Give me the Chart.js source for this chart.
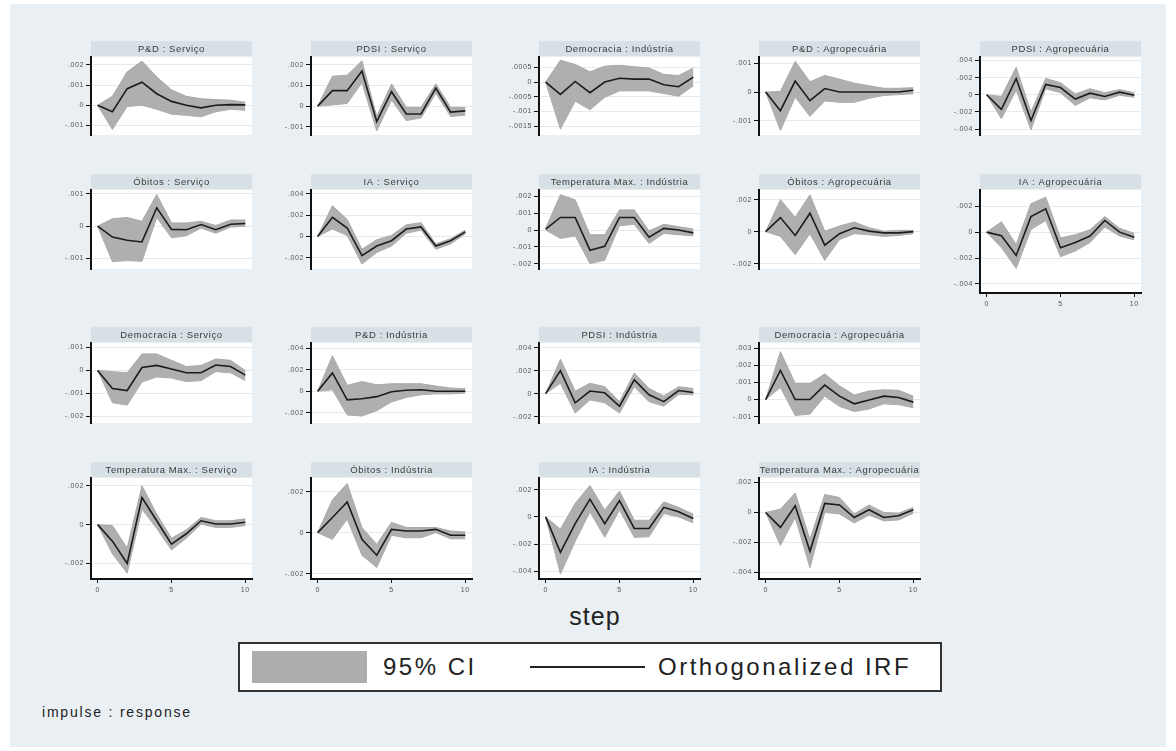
<!DOCTYPE html>
<html>
<head>
<meta charset="utf-8">
<title>IRF</title>
<script src="https://cdn.jsdelivr.net/npm/chart.js@4/dist/chart.umd.min.js"></script>
<style>
  html, body { margin: 0; padding: 0; background: #fff; }
  body { width: 1176px; height: 751px; position: relative; overflow: hidden; font-family: "Liberation Sans", Arial, sans-serif; color: #222; }
  #region { position: absolute; left: 10px; top: 4px; width: 1156px; height: 743px; background: #e9eff2; }
  canvas { position: absolute; }
  #step { position: absolute; left: 545px; top: 601px; width: 100px; text-align: center; font-size: 25px; letter-spacing: 1px; line-height: 30px; }
  #legend { position: absolute; left: 238px; top: 642px; width: 700px; height: 46px; background: #fff; border: 2px solid #333; }
  #legend .sw { position: absolute; left: 12px; top: 7px; width: 115px; height: 32px; background: #adadad; }
  #legend .ln { position: absolute; left: 290px; top: 22px; width: 115px; height: 2px; background: #222; }
  #legend .tx { position: absolute; top: 8px; font-size: 24px; line-height: 30px; letter-spacing: 2.5px; }
  #note { position: absolute; left: 42px; top: 704px; font-size: 14px; letter-spacing: 1.8px; }
</style>
</head>
<body>
<div id="region"></div>
<div id="step">step</div>
<div id="legend">
  <div class="sw"></div>
  <div class="tx" style="left:143px">95% CI</div>
  <div class="ln"></div>
  <div class="tx" style="left:418px">Orthogonalized IRF</div>
</div>
<div id="note">impulse : response</div>
<script>
// impulse : response panels
const titles = [
  'P&D : Serviço', 'PDSI : Serviço', 'Democracia : Indústria', 'P&D : Agropecuária', 'PDSI : Agropecuária',
  'Óbitos : Serviço', 'IA : Serviço', 'Temperatura Max. : Indústria', 'Óbitos : Agropecuária', 'IA : Agropecuária',
  'Democracia : Serviço', 'P&D : Indústria', 'PDSI : Indústria', 'Democracia : Agropecuária',
  'Temperatura Max. : Serviço', 'Óbitos : Indústria', 'IA : Indústria', 'Temperatura Max. : Agropecuária'
]

const steps = [0, 1, 2, 3, 4, 5, 6, 7, 8, 9, 10]
const xTicks = [0, 5, 10]

const irf = [
  [0, -0.00032, 0.00082, 0.00114, 0.00057, 0.00019, 0, -0.00013, 0, 0.00003, 0.00002],
  [0, 0.00075, 0.00075, 0.0017, -0.00075, 0.0007, -0.00038, -0.00038, 0.00088, -0.00029, -0.00023],
  [0, -0.00042, 0.00002, -0.00036, 0, 0.00013, 0.0001, 0.0001, -0.00009, -0.00016, 0.00017],
  [0, -0.00065, 0.00038, -0.0003, 0.00012, 0, 0, 0, 0, 0, 0.00006],
  [0, -0.0017, 0.0019, -0.003, 0.0012, 0.00084, -0.0005, 0.00018, -0.0002, 0.0003, -0.00006],
  [0, -0.00034, -0.00044, -0.00049, 0.00057, -0.0001, -0.00011, 0.00005, -0.00011, 0.00006, 0.00008],
  [0, 0.0018, 0.0008, -0.0018, -0.0009, -0.0004, 0.0007, 0.0009, -0.0009, -0.0004, 0.00044],
  [0.00005, 0.00075, 0.00075, -0.0012, -0.00097, 0.00075, 0.00075, -0.00043, 0.0001, 0, -0.00017],
  [0, 0.00088, -0.00024, 0.00115, -0.00085, -0.00013, 0.00024, 0.00003, -0.00008, -0.00008, 0],
  [0, -0.00028, -0.0018, 0.0012, 0.0018, -0.0012, -0.0008, -0.0003, 0.0009, 0, -0.0004],
  [0, -0.00078, -0.00087, 0.00013, 0.00022, 0.00006, -0.0001, -0.0001, 0.00024, 0.00017, -0.0002],
  [0, 0.0017, -0.0008, -0.0007, -0.0005, -0.00005, 0.0001, 0.00014, 0, 0, 0],
  [0, 0.002, -0.0008, 0.00022, 0.00007, -0.0011, 0.0012, -0.0001, -0.0007, 0.00027, 0.0001],
  [0, 0.0017, 0, 0, 0.00084, 0.0002, -0.00025, -0.00003, 0.0002, 0.00012, -0.00015],
  [0, -0.00085, -0.002, 0.0014, 0.0002, -0.001, -0.00047, 0.0002, 0.00003, 0.00003, 0.00012],
  [0, 0.00074, 0.0015, -0.00033, -0.0011, 0.00016, 0.00008, 0.00008, 0.00016, -0.00013, -0.00013],
  [0, -0.0026, -0.0005, 0.0013, -0.0005, 0.0012, -0.00085, -0.00085, 0.0007, 0.00037, -0.00012],
  [0, -0.001, 0.00045, -0.0026, 0.0006, 0.0005, -0.00034, 0.00018, -0.00034, -0.00022, 0.00018]
]

const ciHigh = [
  [0, 0.00044, 0.00165, 0.00218, 0.0014, 0.00076, 0.00044, 0.00032, 0.00028, 0.00025, 0.00015],
  [0, 0.00145, 0.0015, 0.0022, -0.0005, 0.00108, -0.00006, -0.00006, 0.00108, -0.00006, -0.00006],
  [0, 0.00074, 0.0006, 0.00035, 0.00054, 0.00057, 0.00052, 0.00048, 0.00026, 0.00022, 0.00048],
  [0, 0.00002, 0.00107, 0.00036, 0.00058, 0.00045, 0.00031, 0.00022, 0.00013, 0.00013, 0.00015],
  [0, -0.0002, 0.0032, -0.002, 0.0019, 0.0014, 0.0001, 0.0007, 0.00024, 0.0006, 0.00024],
  [0, 0.00023, 0.00027, 0.00015, 0.00098, 0.0001, 0.0001, 0.00015, 0.00002, 0.00019, 0.00019],
  [0, 0.0029, 0.0016, -0.0012, -0.0003, 0.0001, 0.0011, 0.0013, -0.0007, -0.0002, 0.0006],
  [0.0001, 0.0021, 0.0018, -0.00028, -0.00028, 0.0012, 0.0012, -0.00005, 0.00034, 0.0002, 0.00006],
  [0, 0.002, 0.0009, 0.0023, 0.00003, 0.00035, 0.0006, 0.00024, 0.00003, 0.00008, 0.00008],
  [0, 0.0008, -0.00095, 0.0022, 0.0027, -0.00045, -0.0002, 0.00018, 0.0012, 0.0003, -0.0001],
  [0, -0.00005, -0.0001, 0.00072, 0.00072, 0.00044, 0.00017, 0.00022, 0.0005, 0.00044, 0],
  [0, 0.0033, 0.00055, 0.0009, 0.0006, 0.0007, 0.0007, 0.0007, 0.00048, 0.0003, 0.00024],
  [0, 0.003, 0.0002, 0.0009, 0.0006, -0.0007, 0.0018, 0.00044, -0.0002, 0.0006, 0.00044],
  [0, 0.0028, 0.00094, 0.00094, 0.0015, 0.0008, 0.00027, 0.0005, 0.00057, 0.00054, 0.0002],
  [0, -0.00005, -0.0012, 0.002, 0.00054, -0.0007, -0.00027, 0.00037, 0.0002, 0.0002, 0.0003],
  [0, 0.0016, 0.0024, 0.00025, -0.00057, 0.0005, 0.00025, 0.00025, 0.00025, 0.00008, 0.00003],
  [0, -0.0009, 0.001, 0.0023, 0.0005, 0.0019, -0.00025, -0.00025, 0.0011, 0.0007, 0.0002],
  [0, 0.00022, 0.0013, -0.0018, 0.0012, 0.001, -0.0001, 0.0005, 0, -0.00005, 0.00034]
]

const ciLow = [
  [0, -0.0012, -0.00006, 0, -0.0002, -0.00044, -0.0005, -0.00057, -0.00032, -0.0002, -0.00025],
  [0, 0.00006, 0.00013, 0.00114, -0.0012, 0.0003, -0.0007, -0.00057, 0.00063, -0.0005, -0.00044],
  [0, -0.0016, -0.00065, -0.00094, -0.00052, -0.0003, -0.0003, -0.0003, -0.00039, -0.00048, -0.00013],
  [0, -0.00134, -0.00018, -0.00085, -0.00031, -0.00036, -0.00036, -0.00022, -0.00012, -0.00009, -0.00006],
  [0, -0.0028, 0.00054, -0.0041, 0.0007, 0.00024, -0.00125, -0.00036, -0.0006, -0.00006, -0.0003],
  [0, -0.0011, -0.00107, -0.00109, 0.00027, -0.00036, -0.0003, -0.00006, -0.00022, -0.00003, 0],
  [0, 0.0007, 0.0001, -0.0026, -0.0015, -0.0009, 0.0003, 0.0006, -0.0012, -0.0007, 0.00025],
  [0, -0.0005, -0.00035, -0.002, -0.0018, 0.00026, 0.00034, -0.0008, -0.0002, -0.00028, -0.00035],
  [0, -0.0003, -0.00145, -0.00013, -0.0018, -0.0005, -0.00013, -0.0002, -0.0003, -0.00024, -0.00013],
  [0, -0.0012, -0.0028, 0.0002, 0.0009, -0.0019, -0.00145, -0.0008, 0.0004, -0.0003, -0.0006],
  [0, -0.0014, -0.0015, -0.0005, -0.00028, -0.00033, -0.00048, -0.00044, -0.00005, -0.0001, -0.00044],
  [0, 0.00014, -0.0022, -0.0023, -0.0018, -0.001, -0.00057, -0.00033, -0.00024, -0.00024, -0.00017],
  [0, 0.0009, -0.0017, -0.00055, -0.0008, -0.0017, 0.0006, -0.0007, -0.0011, -0.00007, -0.0001],
  [0, 0.0007, -0.00093, -0.00085, 0.0002, -0.0004, -0.0007, -0.00055, -0.00025, -0.0003, -0.00048],
  [0, -0.0015, -0.0025, 0.0008, -0.0002, -0.0013, -0.0007, 0.00003, -0.00014, -0.00014, -0.00005],
  [0, -0.00033, 0.00066, -0.0011, -0.0017, -0.00013, -0.00025, -0.00025, 0, -0.0003, -0.0003],
  [0, -0.0042, -0.0018, 0.00037, -0.0015, 0.0005, -0.0015, -0.00146, 0.00024, 0, -0.00044],
  [0, -0.0022, -0.00034, -0.0037, 0, -0.0001, -0.0007, -0.00018, -0.00056, -0.0005, -0.00005]
]

const yTicks = [
  [-0.001, 0, 0.001, 0.002], [-0.001, 0, 0.001, 0.002], [-0.0015, -0.001, -0.0005, 0, 0.0005],
  [-0.001, 0, 0.001], [-0.004, -0.002, 0, 0.002, 0.004],
  [-0.001, 0, 0.001], [-0.002, 0, 0.002, 0.004], [-0.002, -0.001, 0, 0.001, 0.002],
  [-0.002, 0, 0.002], [-0.004, -0.002, 0, 0.002],
  [-0.002, -0.001, 0, 0.001], [-0.002, 0, 0.002, 0.004], [-0.002, 0, 0.002, 0.004],
  [-0.001, 0, 0.001, 0.002, 0.003],
  [-0.002, 0, 0.002], [-0.002, 0, 0.002], [-0.004, -0.002, 0, 0.002], [-0.004, -0.002, 0, 0.002]
]

// axis extents per panel [min, max]
const yRange = [
  [-0.00147, 0.00238], [-0.0014, 0.00238], [-0.0018, 0.00085], [-0.0015, 0.00122], [-0.0047, 0.0044],
  [-0.00133, 0.00112], [-0.00306, 0.00437], [-0.00232, 0.00238], [-0.00234, 0.0026], [-0.0047, 0.00325],
  [-0.00228, 0.00119], [-0.00295, 0.00448], [-0.00256, 0.0044], [-0.00137, 0.0033],
  [-0.0028, 0.0024], [-0.00226, 0.00266], [-0.00456, 0.00285], [-0.00445, 0.0023]
]

// layout: [column, row, shows x axis]
const cells = [
  [0, 0, false], [1, 0, false], [2, 0, false], [3, 0, false], [4, 0, false],
  [0, 1, false], [1, 1, false], [2, 1, false], [3, 1, false], [4, 1, true],
  [0, 2, false], [1, 2, false], [2, 2, false], [3, 2, false],
  [0, 3, true], [1, 3, true], [2, 3, true], [3, 3, true]
]
const colAxis = [91, 311, 539, 759, 980]
const rowTop = [57, 190, 343, 478]
const rowH = [102, 103, 104, 101]
const PLOT_W = 161, AXIS_W = 50, STRIP_H = 16, PAD_R = 14, PAD_B = 8, XAXIS_H = 24

const FONT = '"Liberation Sans", Arial, sans-serif'
const fmt = (v) => (v === 0 ? '0' : String(v).replace(/^(-?)0\./, '$1.'))
const pts = (arr) => steps.map((s, k) => ({ x: s, y: arr[k] }))

const stataLook = {
  id: 'stataLook',
  beforeDraw(chart) {
    const { ctx, chartArea: a } = chart
    ctx.letterSpacing = '0.6px'
    ctx.save()
    ctx.fillStyle = '#d6e0e5'
    ctx.fillRect(a.left, a.top - STRIP_H, a.width, STRIP_H - 1)
    ctx.fillStyle = '#fff'
    ctx.fillRect(a.left, a.top, a.width, a.height)
    ctx.restore()
  }
}

function panel(i) {
  const [col, row, hasX] = cells[i]
  const cv = document.createElement('canvas')
  cv.width = AXIS_W + PLOT_W + PAD_R
  cv.height = STRIP_H + rowH[row] + (hasX ? XAXIS_H : PAD_B)
  cv.style.left = (colAxis[col] - AXIS_W) + 'px'
  cv.style.top = (rowTop[row] - STRIP_H) + 'px'
  document.body.appendChild(cv)

  const tickFont = { family: FONT, size: 7 }
  new Chart(cv, {
    type: 'line',
    data: {
      datasets: [
        { data: pts(irf[i]), borderColor: '#1c1c1c', borderWidth: 1.6, pointRadius: 0, fill: false },
        { data: pts(ciHigh[i]), borderColor: '#a9a9a9', borderWidth: 1, pointRadius: 0, fill: '+1', backgroundColor: '#afafaf' },
        { data: pts(ciLow[i]), borderColor: '#a9a9a9', borderWidth: 1, pointRadius: 0, fill: false }
      ]
    },
    options: {
      responsive: false,
      animation: false,
      devicePixelRatio: 1,
      layout: { padding: { top: 0, left: 0, right: PAD_R, bottom: hasX ? 0 : PAD_B } },
      plugins: {
        legend: { display: false },
        tooltip: { enabled: false },
        title: {
          display: true, text: titles[i], fullSize: false, color: '#3a3a3a',
          font: { family: FONT, size: 9.5, weight: 'normal', lineHeight: 1.27 },
          padding: { top: 2, bottom: 2 }
        }
      },
      scales: {
        x: {
          type: 'linear', min: -0.45, max: 10.45, display: hasX,
          afterBuildTicks: (s) => { s.ticks = xTicks.map((v) => ({ value: v })) },
          afterFit: (s) => { s.height = XAXIS_H },
          grid: { drawOnChartArea: false, tickColor: '#111', tickLength: 4 },
          border: { color: '#111', width: 2 },
          ticks: { font: tickFont, color: '#555', padding: 3, maxRotation: 0 }
        },
        y: {
          min: yRange[i][0], max: yRange[i][1],
          afterBuildTicks: (s) => { s.ticks = yTicks[i].map((v) => ({ value: v })) },
          afterFit: (s) => { s.width = AXIS_W },
          grid: { color: '#e4eaed', tickColor: '#111', tickLength: 5 },
          border: { color: '#111', width: 2 },
          ticks: { font: tickFont, color: '#555', padding: 2, callback: (v) => fmt(v) }
        }
      }
    },
    plugins: [stataLook]
  })
}

titles.forEach((_, i) => panel(i))
</script>
</body>
</html>
